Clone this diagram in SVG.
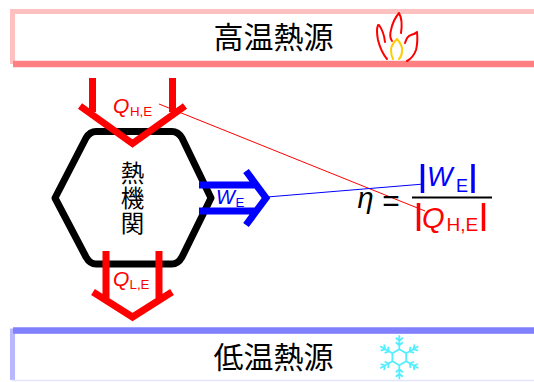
<svg xmlns="http://www.w3.org/2000/svg" xmlns:xlink="http://www.w3.org/1999/xlink" width="534" height="382" viewBox="0 0 534 382">
<style>
.cjk{font-family:"Noto Sans CJK JP","Noto Sans CJK SC",sans-serif;fill:#000}
.lat{font-family:"Liberation Sans",Arial,sans-serif}
.i{font-style:italic}
.red{fill:#f00}.blue{fill:#00f}
.thick{fill:none;stroke-width:7;stroke-linejoin:miter}
.r{stroke:#f00}.b{stroke:#00f}
.flame{fill:none;stroke-width:2;stroke-linecap:round;stroke-linejoin:round}
.arm{fill:none;stroke:#55eeff;stroke-width:1.800}
</style>
<defs>
<g id="arm"><path d="M0,-8V-22M-3.500,-19.500L0,-16.500L3.500,-19.500M-3.500,-15L0,-12L3.500,-15"/></g>
</defs>
<g id="hot-source">
<path d="M12.500,64V11.500H534" fill="none" stroke="#ffc0c0" stroke-width="5"/>
<path d="M13,64H534" fill="none" stroke="#ff8080" stroke-width="6.500"/>
<text class="cjk" x="273.500" y="48" font-size="30" text-anchor="middle">高温熱源</text>
<path class="flame" stroke="#f00" d="M378,25Q376,30 378,40Q381,52 387,59M379,25Q384,32 385,42"/>
<path class="flame" stroke="#f00" d="M399,13Q393,20 391,30Q389,37 392,41M399,13Q403,20 401,33"/>
<path class="flame" stroke="#f00" d="M405,43Q407,36 411,35Q415,34 417,32Q418,42 416,50Q413,58 407,61"/>
<path class="flame" stroke="#ffcc00" d="M397,39Q391,45 391,50Q391,55 393,59M397,39Q403,46 402,51Q402,56 399,59"/>
</g>
<g id="cold-source">
<path d="M12.500,380V331H534" fill="none" stroke="#b8b8ff" stroke-width="5"/>
<path d="M12,380.500H534" fill="none" stroke="#e4e4ff" stroke-width="1.500"/>
<path d="M13,330.500H534" fill="none" stroke="#8080ff" stroke-width="6.500"/>
<text class="cjk" x="273.500" y="368" font-size="30" text-anchor="middle">低温熱源</text>
<g class="arm" transform="translate(399.300,357.300)">
<path d="M0,-8L6.900,-4V4L0,8L-6.900,4V-4Z"/>
<use xlink:href="#arm"/>
<use xlink:href="#arm" transform="rotate(60)"/>
<use xlink:href="#arm" transform="rotate(120)"/>
<use xlink:href="#arm" transform="rotate(180)"/>
<use xlink:href="#arm" transform="rotate(240)"/>
<use xlink:href="#arm" transform="rotate(300)"/>
</g>
</g>
<g id="engine">
<path d="M96,131.500H172Q178,131.500 182,138L211,198L182,257Q178,264 172,264H96Q90,264 86,257L55,198L86,138Q90,131.500 96,131.500Z" fill="none" stroke="#000" stroke-width="7" stroke-linejoin="round"/>
<text class="cjk" x="132.500" y="161" font-size="23.500" writing-mode="vertical-rl" letter-spacing="1.800">熱機関</text>
</g>
<g id="connectors">
<path class="thick r" d="M92.500,78V112M172.500,78V112M80,106L132.500,143.500L185,106"/>
<path class="thick r" d="M106,251V300M159,251V300M93,292L132.500,317L172,292"/>
<path class="thick b" d="M199,185H256M199,211H256M246,171L266,198L246,225"/>
<path d="M159,104L425,211" fill="none" stroke="#f00" stroke-width="1"/>
<path d="M267,197L424,184" fill="none" stroke="#00f" stroke-width="1"/>
</g>
<g id="label-qh">
<text class="lat i red" x="113" y="112.500" font-size="21">Q</text>
<text class="lat red" x="130" y="116" font-size="13.300">H,E</text>
</g>
<g id="label-ql">
<text class="lat i red" x="113" y="285.500" font-size="21">Q</text>
<text class="lat red" x="129.500" y="289" font-size="13.300">L,E</text>
</g>
<g id="label-w">
<text class="lat i blue" x="216" y="204" font-size="20">W</text>
<text class="lat blue" x="235.500" y="207" font-size="13.300">E</text>
</g>
<g id="formula">
<text class="lat i" x="357.500" y="208" font-size="29" fill="#000">η</text>
<text class="lat" x="382.300" y="211" font-size="30" fill="#000">=</text>
<path d="M412,197.500H492" fill="none" stroke="#000" stroke-width="2"/>
<path d="M422.500,164V193M473,164V193" fill="none" stroke="#00f" stroke-width="3.500"/>
<text class="lat i blue" x="427" y="186" font-size="27">W</text>
<text class="lat blue" x="456" y="192" font-size="18">E</text>
<path d="M418.500,203V231M483.500,203V231" fill="none" stroke="#f00" stroke-width="3.500"/>
<text class="lat i red" x="422" y="228" font-size="29">Q</text>
<text class="lat red" x="446.500" y="231" font-size="19">H,E</text>
</g>
</svg>
